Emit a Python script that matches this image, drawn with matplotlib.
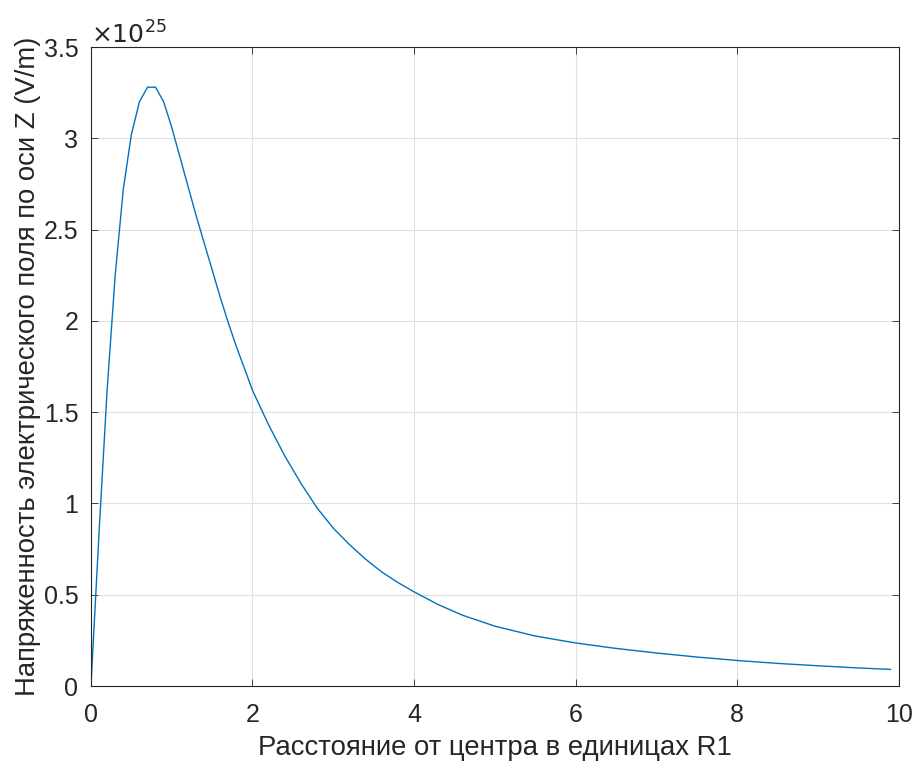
import numpy as np
import matplotlib.pyplot as plt
from matplotlib.ticker import FormatStrFormatter

plt.rcParams['font.family'] = ['Liberation Sans', 'DejaVu Sans']

# distance (units of R1) and field along Z (x1e25 V/m)
r = [0.0, 0.1, 0.2, 0.3, 0.4, 0.5, 0.6, 0.7, 0.8, 0.9, 1.0, 1.1, 1.2, 1.3, 1.4,
     1.5, 1.6, 1.7, 1.8, 1.9, 2.0, 2.2, 2.4, 2.6, 2.8, 3.0, 3.2, 3.4, 3.6, 3.8,
     4.0, 4.3, 4.6, 5.0, 5.5, 6.0, 6.5, 7.0, 7.5, 8.0, 8.5, 9.0, 9.5, 9.9]
E = [0.0, 0.84, 1.62, 2.25, 2.72, 3.02, 3.20, 3.28, 3.28, 3.20, 3.06, 2.90,
     2.74, 2.58, 2.43, 2.28, 2.13, 1.99, 1.86, 1.74, 1.62, 1.43, 1.26, 1.11,
     0.975, 0.865, 0.775, 0.695, 0.625, 0.567, 0.516, 0.446, 0.388, 0.328,
     0.274, 0.236, 0.206, 0.181, 0.159, 0.140, 0.124, 0.111, 0.099, 0.091]
power = 25

fig = plt.figure(figsize=(9.16, 7.66), dpi=100)
ax = fig.add_axes([0.0993, 0.1044, 0.8817, 0.8342])

ax.plot(r, E, color='#0072BD', linewidth=1.0)

ax.set_xlim(0, 10)
ax.set_ylim(0, 3.5)
ax.set_xticks(np.arange(0, 11, 2))
ax.set_yticks(np.arange(0, 3.6, 0.5))
ax.yaxis.set_major_formatter(FormatStrFormatter('%g'))

ax.text(0.0, 0.998, r'$\times10^{%d}$' % power, transform=ax.transAxes,
        fontsize=18, color='#262626', ha='left', va='bottom')

ax.grid(True, color='#e0e0e0', linewidth=0.8)
ax.set_axisbelow(True)
ax.tick_params(direction='in', top=True, right=True, labelsize=18,
               colors='#262626', length=5, width=0.6)
ax.tick_params(axis='x', pad=12)
ax.tick_params(axis='y', pad=9)
for s in ax.spines.values():
    s.set_color('#262626')
    s.set_linewidth(0.8)

ax.set_xlabel('Расстояние от центра в единицах R1', fontsize=19.8,
              color='#262626', labelpad=6)
ax.set_ylabel('Напряженность электрического поля по оси Z (V/m)', fontsize=19.8,
              color='#262626', labelpad=2)

fig.savefig('out.png', dpi=100)
